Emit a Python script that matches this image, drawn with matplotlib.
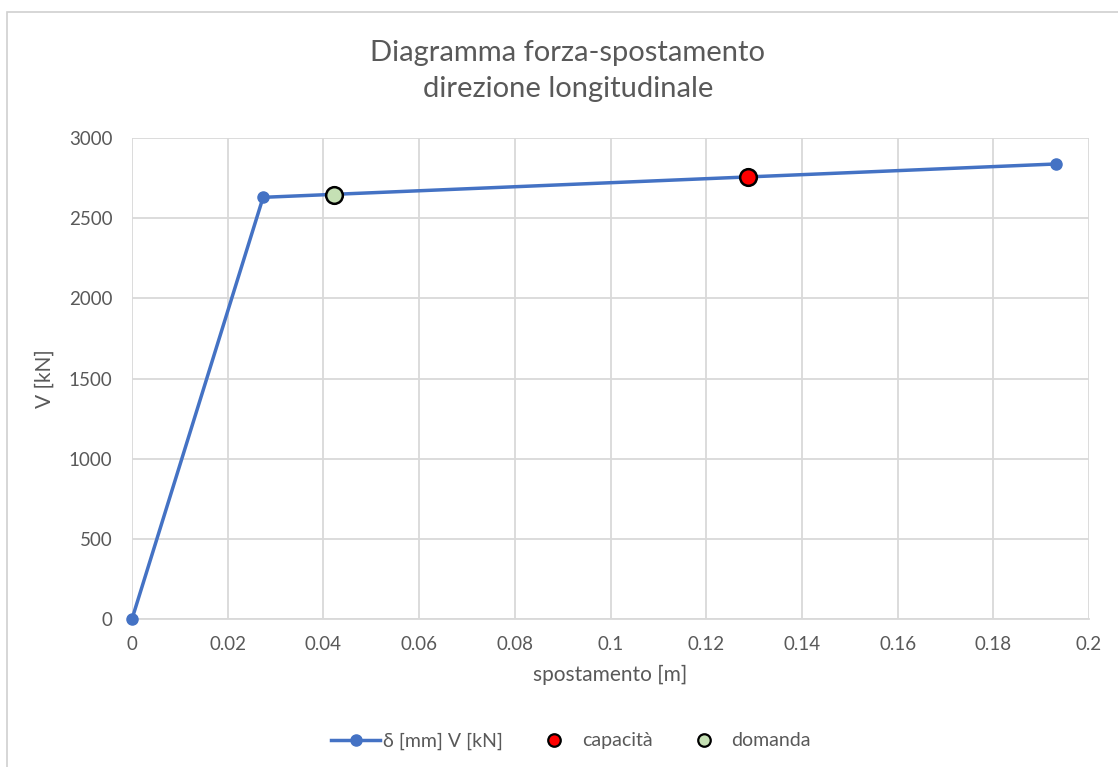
import matplotlib.pyplot as plt
from matplotlib.patches import Rectangle
from matplotlib.lines import Line2D

# Pushover curve (displacement in m, base shear in kN)
spostamento = [0.0, 0.0274, 0.1931]
forza = [0.0, 2630.0, 2838.0]

# Performance points
capacita_x = [0.1287]
capacita_y = [2755.0]
domanda_x = [0.0422]
domanda_y = [2645.0]

x_ticks = [0, 0.02, 0.04, 0.06, 0.08, 0.1, 0.12, 0.14, 0.16, 0.18, 0.2]
x_tick_labels = ["0", "0.02", "0.04", "0.06", "0.08", "0.1", "0.12", "0.14", "0.16", "0.18", "0.2"]
y_ticks = [0, 500, 1000, 1500, 2000, 2500, 3000]

plt.rcParams['font.family'] = ['Lato', 'DejaVu Sans']
TXT = '#595959'
GRID = '#d9d9d9'
BLUE = '#4472C4'

W, H = 1118, 767
fig = plt.figure(figsize=(W / 100, H / 100), dpi=100)

# chart area frame
fig.patches.append(Rectangle((7 / W, -0.1), 1.2, (H - 12) / H + 0.1,
                             transform=fig.transFigure, fill=False,
                             edgecolor='#d0d0d0', linewidth=1.2))

ax = fig.add_axes([132 / W, 148 / H, (1089 - 132) / W, (619 - 138) / H])
ax.set_xlim(0, 0.2)
ax.set_ylim(0, 3000)
ax.set_xticks(x_ticks)
ax.set_xticklabels(x_tick_labels)
ax.set_yticks(y_ticks)
ax.grid(True, color=GRID, linewidth=1.3)
ax.set_axisbelow(True)
for s in ['top', 'right', 'left']:
    ax.spines[s].set_visible(False)
ax.spines['bottom'].set_color(GRID)
ax.spines['bottom'].set_linewidth(1.3)
ax.tick_params(length=0, colors=TXT, labelsize=13.5, pad=12)
ax.tick_params(axis='y', pad=14)

ax.plot(spostamento, forza, color=BLUE, linewidth=2.5, marker='o',
        markersize=8, clip_on=False, zorder=3)
ax.plot(capacita_x, capacita_y, linestyle='none', marker='o', markersize=12,
        markerfacecolor='#FF0000', markeredgecolor='black', markeredgewidth=1.8, zorder=4)
ax.plot(domanda_x, domanda_y, linestyle='none', marker='o', markersize=12,
        markerfacecolor='#C5E0B4', markeredgecolor='black', markeredgewidth=1.8, zorder=4)

ax.set_xlabel('spostamento [m]', color=TXT, fontsize=15, labelpad=9)
ax.set_ylabel('V [kN]', color=TXT, fontsize=15, labelpad=10)

fig.text(568 / W, 1 - 71 / H, 'Diagramma forza-spostamento\ndirezione longitudinale',
         ha='center', va='center', color=TXT, fontsize=21, linespacing=1.5)

handles = [
    Line2D([], [], color=BLUE, linewidth=2.5, marker='o', markersize=8),
    Line2D([], [], linestyle='none', marker='o', markersize=9,
           markerfacecolor='#FF0000', markeredgecolor='black', markeredgewidth=1.6),
    Line2D([], [], linestyle='none', marker='o', markersize=9,
           markerfacecolor='#C5E0B4', markeredgecolor='black', markeredgewidth=1.6),
]
labels = ['δ [mm] V [kN]', 'capacità', 'domanda']
leg = fig.legend(handles, labels, loc='center', bbox_to_anchor=(571 / W, 1 - 741 / H),
                 ncol=3, frameon=False, fontsize=14, handlelength=2.5,
                 columnspacing=1.4, handletextpad=0.15)
for t in leg.get_texts():
    t.set_color(TXT)

fig.savefig('out.png', dpi=100, facecolor='white')
